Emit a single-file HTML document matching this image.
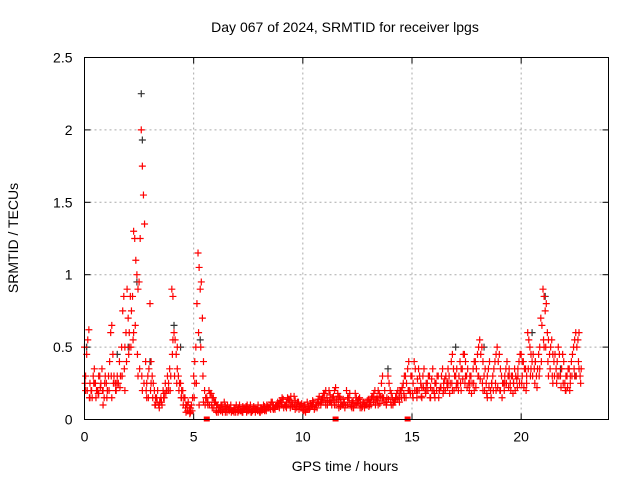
<!DOCTYPE html>
<html><head><meta charset="utf-8"><style>
body{margin:0;background:#fff;}
svg{display:block;font-family:"Liberation Sans",sans-serif;}
</style></head><body>
<svg id="chart" width="640" height="480" viewBox="0 0 640 480">
<rect width="640" height="480" fill="#fff"/>
<text x="345" y="32" font-size="14" text-anchor="middle">Day 067 of 2024, SRMTID for receiver lpgs</text>
<g id="grid"></g>
<g id="axes"></g>
<g id="marks"></g>
<rect x="84.5" y="57.5" width="524" height="362" fill="none" stroke="#000" stroke-width="1"/>
<text x="345" y="471" font-size="14" text-anchor="middle">GPS time / hours</text>
<text transform="translate(18,238) rotate(-90)" font-size="14" text-anchor="middle">SRMTID / TECUs</text>
</svg>
<script>
const xTicks=[0,5,10,15,20];
const yTicks=[0,0.5,1,1.5,2,2.5];
const yTickLabels=["0","0.5","1","1.5","2","2.5"];
const redStart=0, redStep=0.1;
const redValues=[0.5,0.45,0.62,0.2,0.3,0.25,0.2,0.3,0.35,0.15,
0.25,0.3,0.6,0.45,0.25,0.3,0.4,0.5,0.85,0.6,
0.7,0.85,0.85,1.25,1.0,0.95,2.0,1.55,0.4,0.3,
0.8,0.3,0.2,0.15,0.1,0.15,0.2,0.25,0.3,0.35,
0.9,0.6,0.45,0.3,0.25,0.2,0.15,0.1,0.08,0.1,
0.3,0.5,1.15,0.9,0.7,0.2,0.15,0.2,0.18,0.15,
0.12,0.1,0.08,0.1,0.12,0.08,0.07,0.1,0.06,0.08,
0.07,0.1,0.06,0.08,0.09,0.07,0.1,0.06,0.08,0.07,
0.06,0.08,0.1,0.07,0.09,0.1,0.12,0.08,0.1,0.11,
0.12,0.14,0.1,0.15,0.13,0.12,0.16,0.1,0.12,0.1,
0.08,0.1,0.12,0.07,0.1,0.12,0.1,0.14,0.12,0.15,
0.18,0.15,0.2,0.12,0.16,0.22,0.18,0.15,0.1,0.12,
0.2,0.15,0.1,0.13,0.18,0.12,0.15,0.08,0.12,0.1,
0.14,0.12,0.16,0.2,0.15,0.18,0.25,0.15,0.12,0.3,
0.2,0.15,0.12,0.18,0.15,0.2,0.25,0.3,0.35,0.2,
0.3,0.4,0.2,0.35,0.25,0.3,0.2,0.25,0.3,0.28,
0.2,0.25,0.3,0.22,0.35,0.28,0.25,0.3,0.4,0.35,
0.3,0.25,0.4,0.35,0.45,0.3,0.25,0.3,0.35,0.4,
0.45,0.55,0.5,0.3,0.25,0.35,0.2,0.3,0.4,0.5,
0.45,0.3,0.25,0.35,0.3,0.25,0.3,0.35,0.28,0.4,
0.45,0.4,0.35,0.6,0.5,0.4,0.35,0.3,0.45,0.7,
0.9,0.75,0.6,0.45,0.55,0.4,0.35,0.5,0.3,0.45,
0.25,0.3,0.35,0.4,0.5,0.6,0.55,0.3];
const red3Start=0.05, red3Step=0.1;
const red3Values=[0.3,0.55,0.25,0.15,0.35,0.2,0.3,0.25,0.2,0.3,
0.2,0.4,0.65,0.3,0.2,0.25,0.3,0.75,0.5,0.9,
0.6,0.75,1.3,1.1,0.9,1.25,1.75,1.35,0.25,0.35,
0.4,0.25,0.15,0.2,0.12,0.1,0.18,0.2,0.25,0.3,
0.85,0.55,0.5,0.25,0.2,0.15,0.1,0.12,0.05,0.15,
0.4,0.8,1.05,0.95,0.4,0.15,0.12,0.18,0.15,0.12,
0.1,0.08,0.1,0.07,0.09,0.1,0.08,0.06,0.08,0.1,
0.08,0.06,0.09,0.07,0.1,0.08,0.06,0.09,0.07,0.1,
0.08,0.07,0.09,0.1,0.08,0.12,0.1,0.09,0.12,0.13,
0.15,0.1,0.12,0.14,0.16,0.1,0.13,0.12,0.09,0.11,
0.1,0.07,0.09,0.11,0.13,0.08,0.12,0.16,0.14,0.18,
0.2,0.13,0.17,0.15,0.2,0.14,0.16,0.12,0.14,0.1,
0.15,0.18,0.12,0.1,0.15,0.14,0.1,0.12,0.1,0.13,
0.12,0.15,0.18,0.14,0.2,0.16,0.3,0.2,0.15,0.25,
0.18,0.12,0.15,0.2,0.18,0.22,0.3,0.25,0.4,0.3,
0.25,0.35,0.28,0.3,0.22,0.35,0.25,0.3,0.22,0.35,
0.25,0.3,0.2,0.3,0.25,0.3,0.35,0.25,0.45,0.3,
0.35,0.3,0.35,0.45,0.4,0.35,0.3,0.25,0.4,0.35,
0.5,0.45,0.4,0.35,0.3,0.4,0.25,0.35,0.45,0.4,
0.35,0.25,0.3,0.4,0.35,0.3,0.25,0.3,0.35,0.45,
0.4,0.35,0.3,0.55,0.45,0.45,0.4,0.35,0.5,0.65,
0.85,0.8,0.55,0.5,0.45,0.45,0.4,0.45,0.35,0.4,
0.3,0.35,0.3,0.45,0.55,0.5,0.6,0.35];
const red4Start=0.025, red4Step=0.1;
const red4Values=[0.25,0.2,0.15,0.2,0.25,0.15,0.18,0.22,0.2,0.25,
0.15,0.2,0.3,0.25,0.2,0.25,0.22,0.3,0.35,0.4,
0.45,0.5,0.55,0.65,0.45,0.35,0.3,0.25,0.2,0.15,
0.2,0.15,0.1,0.12,0.08,0.12,0.15,0.18,0.2,0.2,
0.45,0.3,0.25,0.2,0.15,0.1,0.08,0.06,0.04,0.06,
0.15,0.25,0.6,0.5,0.3,0.1,0.12,0.1,0.1,0.08,
0.06,0.05,0.06,0.05,0.07,0.05,0.06,0.05,0.06,0.05,
0.05,0.06,0.05,0.07,0.05,0.06,0.05,0.07,0.05,0.06,
0.05,0.06,0.07,0.06,0.08,0.07,0.08,0.07,0.09,0.08,
0.1,0.08,0.09,0.1,0.08,0.09,0.1,0.08,0.07,0.08,
0.06,0.05,0.07,0.08,0.09,0.07,0.1,0.11,0.1,0.12,
0.13,0.1,0.12,0.1,0.13,0.1,0.12,0.09,0.1,0.08,
0.1,0.12,0.09,0.08,0.1,0.11,0.08,0.09,0.08,0.1,
0.09,0.1,0.12,0.1,0.13,0.11,0.15,0.12,0.1,0.14,
0.12,0.1,0.12,0.14,0.12,0.15,0.18,0.15,0.2,0.18,
0.18,0.2,0.15,0.2,0.16,0.22,0.18,0.2,0.15,0.2,
0.18,0.2,0.15,0.22,0.18,0.2,0.22,0.18,0.25,0.2,
0.22,0.2,0.25,0.28,0.25,0.22,0.2,0.18,0.25,0.22,
0.3,0.28,0.25,0.2,0.18,0.22,0.15,0.2,0.25,0.22,
0.2,0.15,0.2,0.25,0.22,0.2,0.18,0.2,0.22,0.25,
0.25,0.22,0.2,0.35,0.3,0.3,0.25,0.22,0.3,0.4,
0.55,0.5,0.4,0.35,0.3,0.3,0.25,0.3,0.22,0.25,
0.2,0.22,0.2,0.3,0.35,0.3,0.4,0.25];
const red2Start=0.05, red2Step=0.2;
const red2Values=[0.2,0.15,0.25,0.18,0.1,0.2,0.15,0.25,0.3,0.2,
0.5,0.6,0.3,0.2,0.15,0.25,0.1,0.12,0.15,0.2,
0.55,0.35,0.15,0.05,0.08,0.25,0.1,0.12,0.1,0.08,
0.05,0.06,0.05,0.07,0.05,0.06,0.05,0.06,0.05,0.07,
0.05,0.06,0.08,0.07,0.09,0.1,0.08,0.1,0.07,0.09,
0.06,0.08,0.1,0.08,0.12,0.1,0.12,0.1,0.08,0.1,
0.1,0.08,0.1,0.12,0.1,0.1,0.12,0.1,0.15,0.12,
0.1,0.15,0.2,0.15,0.2,0.15,0.2,0.15,0.2,0.15,
0.15,0.2,0.2,0.25,0.2,0.25,0.2,0.3,0.25,0.2,
0.3,0.2,0.15,0.25,0.2,0.2,0.25,0.3,0.25,0.3,
0.3,0.25,0.35,0.4,0.35,0.5,0.3,0.25,0.3,0.35,
0.2,0.25,0.3,0.35];
const blackHours=[0.1,1.5,2.0,2.4,2.6,2.65,3.0,4.1,4.4,5.3,13.9,17.0,18.3,20.5,21.1,21.8,22.5];
const blackValues=[0.5,0.45,0.5,0.95,2.25,1.93,0.4,0.65,0.5,0.55,0.35,0.5,0.5,0.6,0.85,0.35,0.3];
const zeroHours=[5.6,11.5,14.8];

const NS="http://www.w3.org/2000/svg";
const X0=84.5,X1=608.5,Y0=419.5,Y1=57.5;
const xs=h=>X0+h/24*(X1-X0);
const ys=v=>Y0-v/2.5*(Y0-Y1);
const grid=document.getElementById('grid'),axes=document.getElementById('axes'),marks=document.getElementById('marks');
function mk(tag,attrs,parent){const e=document.createElementNS(NS,tag);for(const k in attrs)e.setAttribute(k,attrs[k]);parent.appendChild(e);return e;}
xTicks.forEach(t=>{
  const x=xs(t);
  if(t>0){const g=mk('line',{x1:x,x2:x,y1:Y0,y2:Y1,stroke:'#aaa','stroke-dasharray':'2,3'},grid);
  
  }
  mk('line',{x1:x,x2:x,y1:Y0,y2:Y0-6,stroke:'#000'},axes);
  mk('line',{x1:x,x2:x,y1:Y1,y2:Y1+6,stroke:'#000'},axes);
  const l=mk('text',{x:x,y:Y0+22,'font-size':14,'text-anchor':'middle'},axes);l.textContent=t;
  
  
});
yTicks.forEach((t,i)=>{
  const y=ys(t);
  if(t>0&&t<2.5){const g=mk('line',{x1:X0,x2:X1,y1:y,y2:y,stroke:'#aaa','stroke-dasharray':'2,3'},grid);
  
  }
  mk('line',{x1:X0,x2:X0+6,y1:y,y2:y,stroke:'#000'},axes);
  mk('line',{x1:X1,x2:X1-6,y1:y,y2:y,stroke:'#000'},axes);
  const l=mk('text',{x:X0-12,y:y+5,'font-size':14,'text-anchor':'end'},axes);l.textContent=yTickLabels[i];
  
  
});
function plus(h,v,color,name){
  const x=xs(h),y=ys(v);
  const p=mk('path',{d:`M${x-3.5},${y}H${x+3.5}M${x},${y-3.5}V${y+3.5}`,stroke:color,'stroke-width':1.2,fill:'none'},marks);
  
  
}
blackValues.forEach((v,i)=>plus(blackHours[i],v,'#333','black-point'));
red2Values.forEach((v,i)=>plus(red2Start+i*red2Step,v,'#f00','red-point'));
red4Values.forEach((v,i)=>plus(red4Start+i*red4Step,v,'#f00','red-point'));
red3Values.forEach((v,i)=>plus(red3Start+i*red3Step,v,'#f00','red-point'));
redValues.forEach((v,i)=>plus(redStart+i*redStep,v,'#f00','red-point'));
zeroHours.forEach(h=>{
  const r=mk('rect',{x:xs(h)-3,y:Y0-3,width:6,height:5,fill:'#f00'},marks);
  
  
});
</script>
</body></html>
